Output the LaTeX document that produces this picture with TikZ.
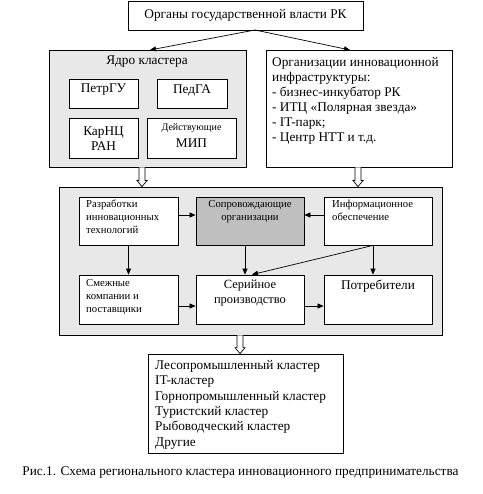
\documentclass[tikz,border=0pt]{standalone}
\usepackage{fontspec}
\setmainfont{Liberation Serif}
\usetikzlibrary{arrows.meta,calc}
\tikzset{
  box/.style={draw, line width=0.8pt, fill=white, inner sep=0pt},
  grp/.style={draw, line width=0.8pt, fill=black!9, inner sep=0pt},
  arr/.style={line width=0.7pt, -{Triangle[length=6pt,width=5pt]}},
  big/.style={font=\fontsize{13.3}{15}\selectfont},
  list/.style={font=\fontsize{13.3}{15.4}\selectfont},
  small/.style={font=\fontsize{10.7}{13}\selectfont},
  tiny/.style={font=\fontsize{10}{11}\selectfont},
}
\newcommand\harrow[2]{%
  \draw[line width=0.7pt, fill=white] let \p1=(#1), \p2=(#2) in
    (\x1-3pt,\y1) -- (\x1-3pt,\y2+6pt) -- (\x1-5pt,\y2+6pt) -- (\x1,\y2)
    -- (\x1+5pt,\y2+6pt) -- (\x1+3pt,\y2+6pt) -- (\x1+3pt,\y1);}
\begin{document}
\begin{tikzpicture}[x=1pt,y=-1pt]
\useasboundingbox (0,0) rectangle (482,494);
% top
\node[box, minimum width=235pt, minimum height=29pt, big] (top) at (245.5,15.5) {Органы государственной власти РК};
% core
\node[grp, minimum width=197pt, minimum height=117pt] (core) at (147.5,108.5) {};
\node[big, inner sep=0pt] (coret) at (147,62) {Ядро кластера};
\node[box, minimum width=69pt, minimum height=29pt] (petr) at (103.5,93.5) {};
\node[big, inner sep=0pt] (petrt) at (103.5,90) {ПетрГУ};
\node[box, minimum width=70pt, minimum height=29pt] (ped) at (192,93.5) {};
\node[big, inner sep=0pt] (pedt) at (192,90) {ПедГА};
\node[box, minimum width=69pt, minimum height=40pt] (kar) at (103.5,138) {};
\node[big, align=center, inner sep=0pt] (kart) at (103.5,138.5) {КарНЦ\\РАН};
\node[box, minimum width=89pt, minimum height=40pt] (mip) at (191.5,138) {};
\node[tiny, inner sep=0pt] (mipt1) at (191.5,128) {Действующие};
\node[big, inner sep=0pt] (mipt2) at (191.5,143.5) {МИП};
% infrastructure
\node[box, minimum width=186pt, minimum height=117pt] (infra) at (359,108.5) {};
\node[big, align=left, anchor=north west, inner sep=0pt] (infrat) at (272,57) {Организации инновационной\\инфраструктуры:\\- бизнес-инкубатор РК\\- ИТЦ «Полярная звезда»\\- IT-парк;\\- Центр НТТ и т.д.};
% arrows from top
\coordinate (apex) at (255,30);
\draw[arr] (apex) -- (150,50);
\draw[arr] (apex) -- (350,50);
% middle group
\node[grp, minimum width=383pt, minimum height=148pt] (mid) at (250.5,261) {};
\harrow{core.south -| 142,0}{mid.north -| 142,0}
\harrow{infra.south -| 358,0}{mid.north -| 358,0}
\node[box, minimum width=99pt, minimum height=48pt] (dev) at (128.5,221) {};
\node[small, align=left, anchor=north west, inner sep=0pt] (devt) at (86,200) {Разработки\\инновационных\\технологий};
\node[box, fill=black!25, minimum width=108pt, minimum height=48pt] (sup) at (250,221) {};
\node[small, align=center, anchor=north, inner sep=0pt] (supt) at (250,200) {Сопровождающие\\организации};
\node[box, minimum width=108pt, minimum height=48pt] (inf) at (378,221) {};
\node[small, align=left, anchor=north west, inner sep=0pt] (inft) at (332,200) {Информационное\\обеспечение};
\node[box, minimum width=99pt, minimum height=49pt] (adj) at (128.5,299.5) {};
\node[small, align=left, anchor=north west, inner sep=0pt] (adjt) at (86,279) {Смежные\\компании и\\поставщики};
\node[box, minimum width=108pt, minimum height=49pt] (ser) at (250,299.5) {};
\node[font=\fontsize{12.5}{15}\selectfont, align=center, anchor=north, inner sep=0pt] (sert) at (250,280) {Серийное\\производство};
\node[box, minimum width=108pt, minimum height=49pt] (con) at (378,299.5) {};
\node[font=\fontsize{13.3}{15}\selectfont, anchor=north, inner sep=0pt] (cont) at (378,280) {Потребители};
% inner arrows
\draw[arr] (dev.east |- 0,215) -- (sup.west |- 0,215);
\draw[arr] (inf.west |- 0,215) -- (sup.east |- 0,215);
\draw[arr] (dev.south) -- (adj.north);
\draw[arr] (sup.south -| 245,0) -- (ser.north -| 245,0);
\coordinate (infs) at ($(inf.south)+(-5,0)$);
\draw[arr] (infs) -- (infs |- con.north);
\draw[arr] (infs) -- ($(ser.north)+(2,0)$);
\draw[arr] (adj.east |- 0,306) -- (ser.west |- 0,306);
\draw[arr] (ser.east |- 0,306) -- (con.west |- 0,306);
% bottom
\node[box, minimum width=195pt, minimum height=99pt] (list) at (245.5,403.5) {};
\harrow{mid.south -| 240,0}{list.north -| 240,0}
\node[list, align=left, anchor=north west, inner sep=0pt] (listt) at (155,360) {Лесопромышленный кластер\\IT-кластер\\Горнопромышленный кластер\\Туристский кластер\\Рыбоводческий кластер\\Другие};
\node[big, inner sep=0pt] (cap) at (240.5,473) {Рис.1. Схема регионального кластера инновационного предпринимательства};
\end{tikzpicture}
\end{document}
